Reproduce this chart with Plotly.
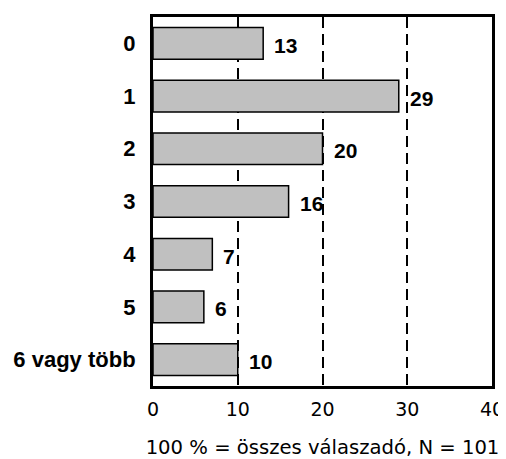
import plotly.graph_objects as go

categories = ["0", "1", "2", "3", "4", "5", "6 vagy több"]
values = [13, 29, 20, 16, 7, 6, 10]
x_ticks = [0, 10, 20, 30, 40]
x_title = "100 % = összes válaszadó, N = 101"

fig = go.Figure()
fig.add_trace(go.Bar(
    x=values, y=categories, orientation="h",
    width=0.6,
    marker=dict(color="#c0c0c0", line=dict(color="black", width=1.5)),
    hoverinfo="skip",
))

for v, c in zip(values, categories):
    fig.add_annotation(x=v, y=c, text=str(v), showarrow=False,
                       xanchor="left", xshift=9, yshift=-2,
                       font=dict(family="Liberation Sans", size=21, color="black", weight="bold"))

fig.update_layout(
    width=498, height=451,
    margin=dict(l=145, r=14, t=9, b=73),
    paper_bgcolor="white", plot_bgcolor="white",
    showlegend=False,
    bargap=0.4,
)
fig.update_xaxes(
    range=[0, 40], tickvals=x_ticks, ticktext=[str(t) for t in x_ticks],
    automargin=False,
    showgrid=True, gridcolor="black", gridwidth=2, griddash="11px,6px",
    zeroline=False,
    showline=True, linecolor="black", linewidth=3, mirror=True,
    ticks="outside", ticklen=4, tickcolor="rgba(0,0,0,0)",
    tickfont=dict(family="DejaVu Sans", size=19, color="black"),
    title=dict(text=x_title, font=dict(family="DejaVu Sans", size=19.6, color="black"), standoff=22),
)
fig.update_yaxes(
    autorange="reversed",
    automargin=False,
    showgrid=False, zeroline=False,
    showline=True, linecolor="black", linewidth=3, mirror=True,
    ticks="outside", ticklen=10, tickcolor="rgba(0,0,0,0)",
    tickfont=dict(family="Liberation Sans", size=22, color="black", weight="bold"),
)

fig.write_html("out.html")
